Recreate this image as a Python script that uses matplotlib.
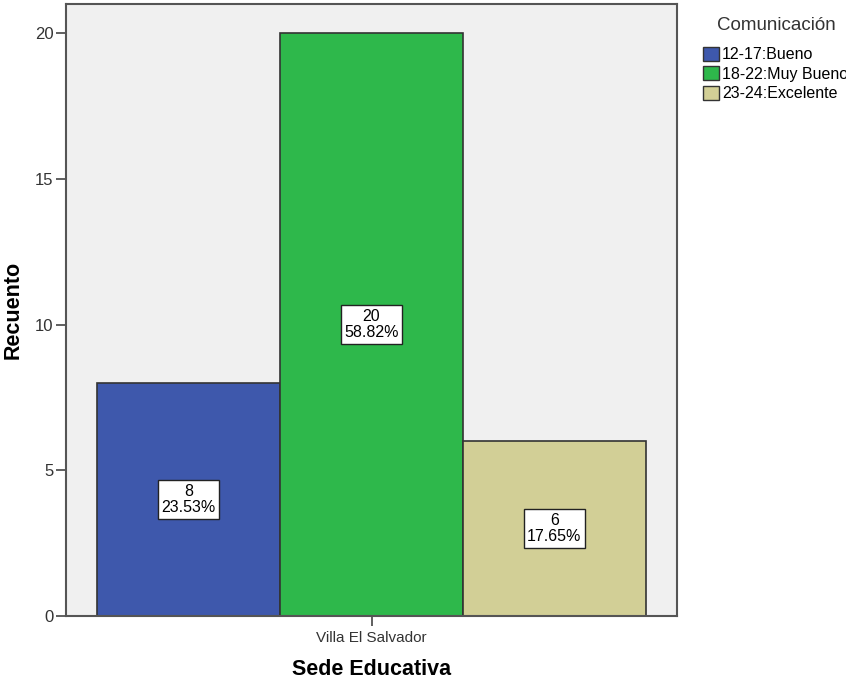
import matplotlib.pyplot as plt
from matplotlib.patches import Patch

# data
categories = ["12-17:Bueno", "18-22:Muy Bueno", "23-24:Excelente"]
counts = [8, 20, 6]
percents = ["23.53%", "58.82%", "17.65%"]
site = "Villa El Salvador"
colors = ["#3e58ac", "#2eb84b", "#d2cf96"]

plt.rcParams["font.family"] = ["Liberation Sans", "DejaVu Sans"]

fig = plt.figure(figsize=(8.46, 6.81), dpi=100)
ax = fig.add_axes([66 / 846, 1 - 616 / 681, (677 - 66) / 846, (616 - 4) / 681])
ax.set_facecolor("#f0f0f0")

positions = [-1, 0, 1]
bars = ax.bar(positions, counts, width=1.0, color=colors,
              edgecolor="#333333", linewidth=1.2)

# count / percent boxes in the middle of each bar
for pos, c, p in zip(positions, counts, percents):
    ax.text(pos, c / 2, str(c) + "\n" + p, ha="center", va="center",
            fontsize=11.5, linespacing=1.15,
            bbox=dict(boxstyle="square,pad=0.22", facecolor="white",
                      edgecolor="#222222", linewidth=1.0))

ax.set_xlim(-1.67, 1.67)
ax.set_ylim(0, 21)
ax.set_xticks([0])
ax.set_xticklabels([site], fontsize=11, color="#333333")
ax.set_yticks([0, 5, 10, 15, 20])
ax.tick_params(axis="y", labelsize=12, length=7, width=1.2, color="#444444",
               labelcolor="#333333", pad=2)
ax.tick_params(axis="x", length=7, width=1.2, color="#444444", pad=4)

for side in ["left", "bottom", "right", "top"]:
    ax.spines[side].set_color("#555555")
    ax.spines[side].set_linewidth(1.5)

ax.set_xlabel("Sede Educativa", fontsize=15.5, fontweight="bold", labelpad=10)
ax.set_ylabel("Recuento", fontsize=15.5, fontweight="bold", labelpad=8)

# legend, title drawn on its own
fig.text(717 / 846, 1 - 25 / 681, "Comunicación", fontsize=13.5, color="#333333",
         ha="left", va="center")
handles = [Patch(facecolor=c, edgecolor="#333333", linewidth=1.0) for c in colors]
leg = fig.legend(handles, categories, loc="upper left",
                 bbox_to_anchor=(703 / 846, 1 - 47 / 681), frameon=False,
                 fontsize=11.5, handlelength=1.0, handleheight=0.95,
                 handletextpad=0.2, labelspacing=0.25,
                 borderaxespad=0, borderpad=0)

fig.savefig("out.png", dpi=100)
